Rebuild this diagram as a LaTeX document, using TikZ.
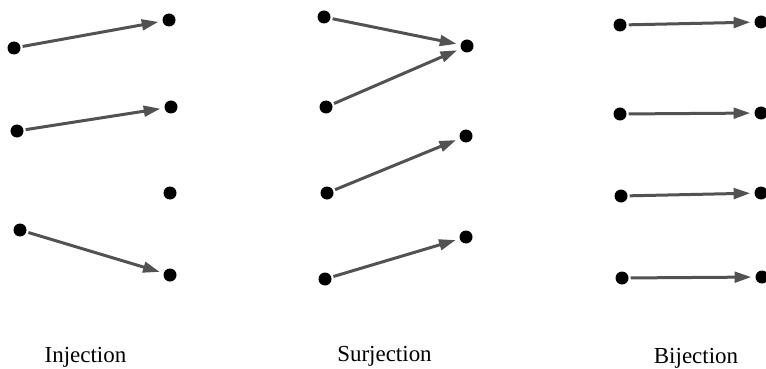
\documentclass[tikz,border=0pt]{standalone}
\usepackage{fontspec}
\setmainfont{Liberation Serif}
\usetikzlibrary{arrows.meta}
\begin{document}
\begin{tikzpicture}[x=0.03cm, y=-0.03cm,
  dot/.style={circle, fill=black, inner sep=0pt, minimum size=0.39cm},
  mapto/.style={draw=black!68, line width=0.09cm, -{Triangle[length=0.5cm, width=0.32cm]}, shorten >=0.12cm, shorten <=0.06cm},
  caption/.style={anchor=base, font=\fontsize{19.6}{23}\selectfont}]
  \useasboundingbox (0,0) rectangle (766,369);
  % injection
  \node[dot] (IA1) at (14,48) {};
  \node[dot] (IA2) at (17,131) {};
  \node[dot] (IA3) at (20,230) {};
  \node[dot] (IB1) at (169,20) {};
  \node[dot] (IB2) at (171,107) {};
  \node[dot] (IB3) at (170,193) {};
  \node[dot] (IB4) at (170,275) {};
  \draw[mapto] (IA1) -- (IB1);
  \draw[mapto] (IA2) -- (IB2);
  \draw[mapto] (IA3) -- (IB4);
  \node[caption] (Ilab) at (85.5,362) {Injection};
  % surjection
  \node[dot] (SA1) at (324,17) {};
  \node[dot] (SA2) at (326,107) {};
  \node[dot] (SA3) at (327,193) {};
  \node[dot] (SA4) at (325,279) {};
  \node[dot] (SB1) at (467,46) {};
  \node[dot] (SB2) at (466,136) {};
  \node[dot] (SB3) at (466,237) {};
  \draw[mapto] (SA1) -- (SB1);
  \draw[mapto] (SA2) -- (SB1);
  \draw[mapto] (SA3) -- (SB2);
  \draw[mapto] (SA4) -- (SB3);
  \node[caption] (Slab) at (384.5,361) {Surjection};
  % bijection
  \node[dot] (BA1) at (620,25) {};
  \node[dot] (BA2) at (620,114) {};
  \node[dot] (BA3) at (621,196) {};
  \node[dot] (BA4) at (622,278) {};
  \node[dot] (BB1) at (761,22) {};
  \node[dot] (BB2) at (761,113) {};
  \node[dot] (BB3) at (761,193) {};
  \node[dot] (BB4) at (762,277) {};
  \draw[mapto] (BA1) -- (BB1);
  \draw[mapto] (BA2) -- (BB2);
  \draw[mapto] (BA3) -- (BB3);
  \draw[mapto] (BA4) -- (BB4);
  \node[caption] (Blab) at (696,363.5) {Bijection};
\end{tikzpicture}
\end{document}
